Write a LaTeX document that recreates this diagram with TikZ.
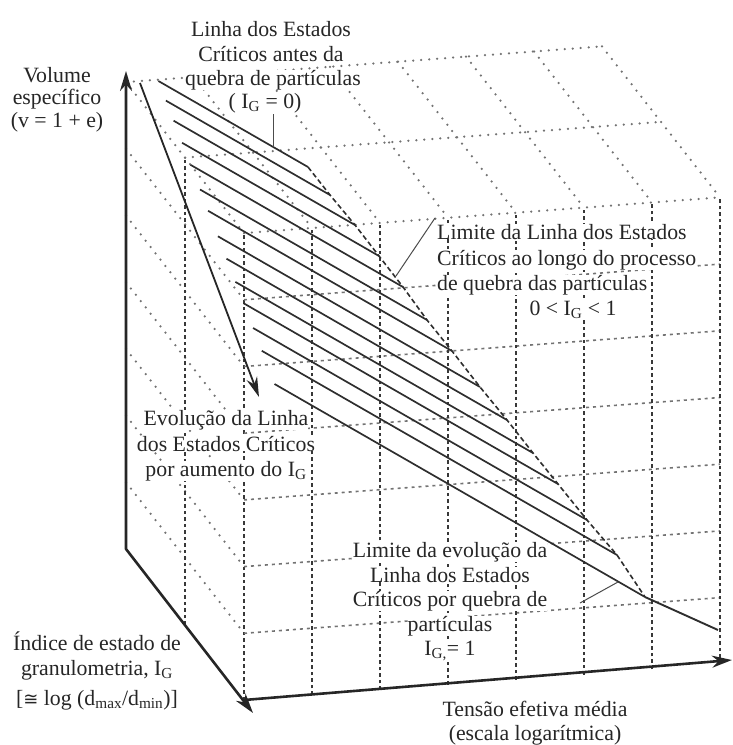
\documentclass[tikz,border=0pt]{standalone}
\usepackage{fontspec}
\setmainfont{Liberation Serif}
\newfontfamily\symfam{DejaVu Sans}
\usetikzlibrary{arrows.meta}
\begin{document}
\begin{tikzpicture}[x=1pt,y=-1pt,
  latdot/.style={draw=black!55, line width=2.5pt, line cap=round, dash pattern=on 0pt off 8pt},
  latdash/.style={draw=black!78, line width=1.4pt, dash pattern=on 3.5pt off 3pt},
  rowdash/.style={draw=black!55, line width=1.6pt, dash pattern=on 3pt off 4pt},
  hatchln/.style={draw=black!82, line width=1.7pt},
  limdash/.style={draw=black!82, line width=1.6pt, dash pattern=on 5pt off 3pt},
  axisln/.style={draw=black!85, line width=2.6pt, line join=round},
  evoarrow/.style={draw=black!85, line width=1.8pt, -{Stealth[length=20pt,width=11pt]}},
  leader/.style={draw=black!70, line width=1pt},
  lbl/.style={font=\fontsize{21.8}{24}\selectfont, fill=white, inner sep=0pt, text=black!85}
]
\useasboundingbox (0,0) rectangle (733,745);

% lattice points: k = stress column, g = granulometry (0 back, 2 front), r = row
\foreach \k in {0,...,7}{
  \foreach \g in {0,1,2}{
    \foreach \r in {0,...,7}{
      \coordinate (P-\k-\g-\r) at ({126+68*\k+59*\g},{549+75.5*\g-66.7*\r-5.1*\k});
    }}}

% left face
\foreach \r in {1,...,7} \draw[latdot] (P-0-0-\r) -- (P-0-2-\r);
\foreach \g in {1,2} \draw[latdash] (P-0-\g-0) -- (P-0-\g-7);
% top face
\foreach \g in {0,1,2} \draw[latdot] (P-0-\g-7) -- (P-7-\g-7);
\foreach \k in {1,...,7} \draw[latdot] (P-\k-0-7) -- (P-\k-2-7);
% front face
\foreach \r in {1,...,6} \draw[rowdash] (P-0-2-\r) -- (P-7-2-\r);
\foreach \k in {1,...,7} \draw[latdash] (P-\k-2-0) -- (P-\k-2-7);

% labels
\node[lbl, anchor=base] (t1) at (271,36) {Linha dos Estados};
\node[lbl, anchor=base] (t2) at (271,61) {Críticos antes da};
\node[lbl, anchor=base] (t3) at (273,85) {quebra de partículas};
\node[lbl, anchor=base] (t4) at (265,108) {( I\textsubscript{G} = 0)};

\node[lbl, anchor=base] (v1) at (57,82) {Volume};
\node[lbl, anchor=base] (v2) at (57,104) {específico};
\node[lbl, anchor=base] (v3) at (57,127) {(v = 1 + e)};

\node[lbl, anchor=base west] (l1) at (437,239) {Limite da Linha dos Estados};
\node[lbl, anchor=base west] (l2) at (437,265) {Críticos ao longo do processo};
\node[lbl, anchor=base west] (l3) at (437,290) {de quebra das partículas};
\node[lbl, anchor=base] (l4) at (573,315) {0 < I\textsubscript{G} < 1};

\node[lbl, anchor=base] (e1) at (226,425) {Evolução da Linha};
\node[lbl, anchor=base] (e2) at (226,451) {dos Estados Críticos};
\node[lbl, anchor=base] (e3) at (226,476) {por aumento do I\textsubscript{G}};

\node[lbl, anchor=base] (m1) at (450,557) {Limite da evolução da};
\node[lbl, anchor=base] (m2) at (450,582) {Linha dos Estados};
\node[lbl, anchor=base] (m3) at (450,606) {Críticos por quebra de};
\node[lbl, anchor=base] (m4) at (450,631) {partículas};
\node[lbl, anchor=base] (m5) at (450,655) {I\textsubscript{G,}= 1};

\node[lbl, anchor=base] (i1) at (97,650) {Índice de estado de};
\node[lbl, anchor=base] (i2) at (97,675) {granulometria, I\textsubscript{G}};
\node[lbl, anchor=base] (i3) at (97,705) {[{\symfam\fontsize{18}{20}\selectfont ≅} log (d\textsubscript{max}/d\textsubscript{min})]};

\node[lbl, anchor=base] (s1) at (535,716) {Tensão efetiva média};
\node[lbl, anchor=base] (s2) at (535,740) {(escala logarítmica)};

% critical state lines (hatching)
\foreach \i/\sx/\sy/\ex/\ey in {
  0/158.4/81/308/167, 1/165.9/100.6/330/195, 2/173.6/120.7/355/225,
  3/182.1/142.8/379/256, 4/190.5/164.8/403/287, 5/200/189.5/427/320,
  6/208.1/210.8/452/351, 7/217.9/236.3/480/387, 8/226.5/258.7/507/420,
  9/235.4/281.9/533/453, 10/243.5/303.2/558/484, 11/253.1/328/587/520,
  12/261.8/350.8/617/555, 13/274.5/384/645/597}{
  \coordinate (S\i) at (\sx,\sy);
  \coordinate (E\i) at (\ex,\ey);
  \draw[hatchln] (S\i) -- (E\i);
}
\coordinate (Bend) at (718,630);
\draw[hatchln, line width=1.9pt] (E13) -- (Bend);
\draw[limdash] (E0) -- (E1) -- (E2) -- (E3) -- (E4) -- (E5) -- (E6) -- (E7)
  -- (E8) -- (E9) -- (E10) -- (E11) -- (E12) -- (E13);

% evolution arrow
\coordinate (EvA) at (140,83);
\coordinate (EvB) at (259,397);
\draw[evoarrow] (EvA) -- (EvB);

% leaders
\coordinate (ldA1) at (273,114);
\coordinate (ldA2) at (273,147);
\draw[leader] (ldA1) -- (ldA2);
\coordinate (ldB1) at (435,218);
\coordinate (ldB2) at (396,276);
\draw[leader] (ldB1) -- (ldB2);
\coordinate (ldC1) at (580,603);
\coordinate (ldC2) at (618,582);
\draw[leader] (ldC1) -- (ldC2);

% axes
\coordinate (Vtip) at (126,71);
\coordinate (Gtip) at (253,713);
\coordinate (Ptip) at (732,660);
\draw[axisln, {Stealth[length=20pt,width=12pt]}-{Stealth[length=20pt,width=12pt]}] (Vtip) -- (P-0-0-0) -- (Gtip);
\draw[axisln, -{Stealth[length=20pt,width=12pt]}] (P-0-2-0) -- (Ptip);
\end{tikzpicture}
\end{document}
